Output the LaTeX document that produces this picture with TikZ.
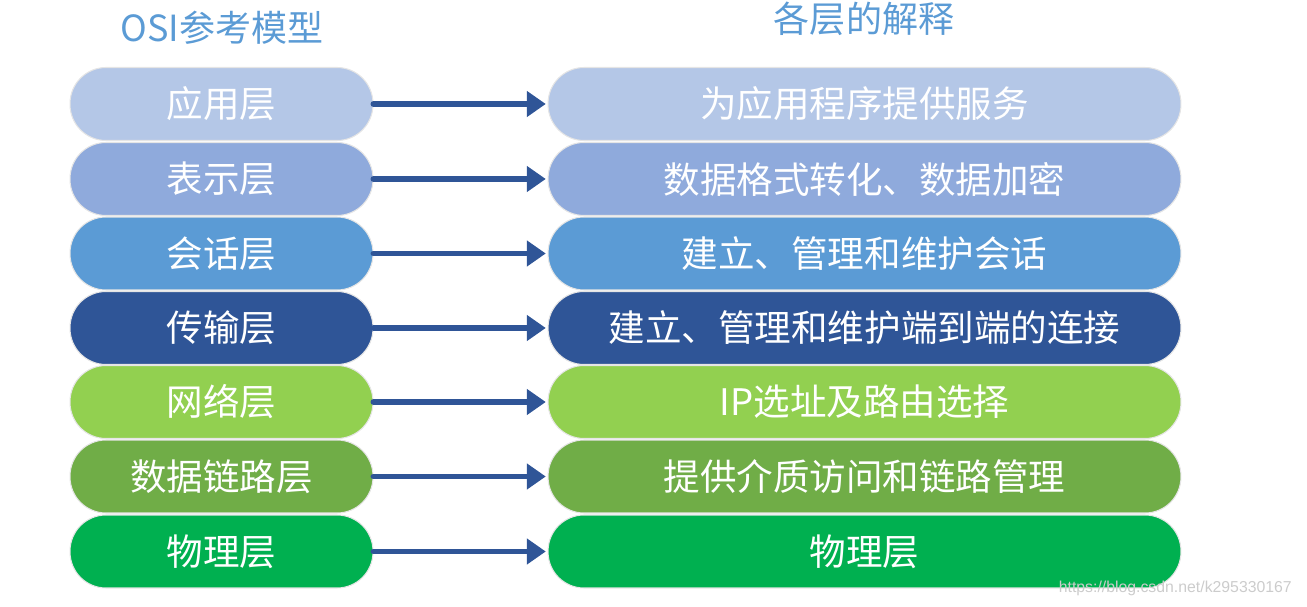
\documentclass[tikz,border=0pt]{standalone}
\usepackage{fontspec}
\setmainfont{Noto Sans CJK SC}
\newfontfamily\wmfont{Liberation Sans}
\usetikzlibrary{arrows.meta,positioning}
\definecolor{LA}{HTML}{B4C7E7}
\definecolor{LB}{HTML}{8FAADC}
\definecolor{LC}{HTML}{5B9BD5}
\definecolor{LD}{HTML}{2F5597}
\definecolor{LE}{HTML}{92D050}
\definecolor{LF}{HTML}{70AD47}
\definecolor{LG}{HTML}{00B050}

\tikzset{
  layer/.style={draw=black!10, line width=0.6pt, fill=#1,
    rounded corners=0.72cm, minimum height=1.46cm,
    text=white, font=\fontsize{20.8}{24}\selectfont, inner sep=0pt},
  osi/.style={layer=#1, minimum width=6.06cm},
  expl/.style={layer=#1, minimum width=12.66cm},
  link/.style={draw=LD, line width=3.4pt, line cap=round,
    -{Triangle[length=0.38cm,width=0.5cm]}, shorten >=1pt},
  heading/.style={text=LC, font=\fontsize{20.5}{24}\selectfont}
}

\begin{document}
\begin{tikzpicture}[x=0.02cm, y=-0.02cm]
  \useasboundingbox (0,0) rectangle (1307,607);

  % titles
  \node[heading] (tl) at (222,28) {OSI参考模型};
  \node[heading] (tr) at (864,19) {各层的解释};

  % left column
  \node[osi=LA] (l1) at (221.5,104)   {应用层};
  \node[osi=LB] (l2) at (221.5,179)   {表示层};
  \node[osi=LC] (l3) at (221.5,253.5) {会话层};
  \node[osi=LD] (l4) at (221.5,328)   {传输层};
  \node[osi=LE] (l5) at (221.5,402)   {网络层};
  \node[osi=LF] (l6) at (221.5,476.5) {数据链路层};
  \node[osi=LG] (l7) at (221.5,551.5) {物理层};

  % right column
  \node[expl=LA] (r1) at (864.5,104)   {为应用程序提供服务};
  \node[expl=LB] (r2) at (864.5,179)   {数据格式转化、数据加密};
  \node[expl=LC] (r3) at (864.5,253.5) {建立、管理和维护会话};
  \node[expl=LD] (r4) at (864.5,328)   {建立、管理和维护端到端的连接};
  \node[expl=LE] (r5) at (864.5,402)   {IP选址及路由选择};
  \node[expl=LF] (r6) at (864.5,476.5) {提供介质访问和链路管理};
  \node[expl=LG] (r7) at (864.5,551.5) {物理层};

  % arrows
  \draw[link] (l1) -- (r1);
  \draw[link] (l2) -- (r2);
  \draw[link] (l3) -- (r3);
  \draw[link] (l4) -- (r4);
  \draw[link] (l5) -- (r5);
  \draw[link] (l6) -- (r6);
  \draw[link] (l7) -- (r7);

  % watermark
  \node[text=black!20, font=\wmfont\fontsize{9}{11}\selectfont,
        anchor=east] (wm) at (1298,588) {https://blog.csdn.net/k295330167};
\end{tikzpicture}
\end{document}
